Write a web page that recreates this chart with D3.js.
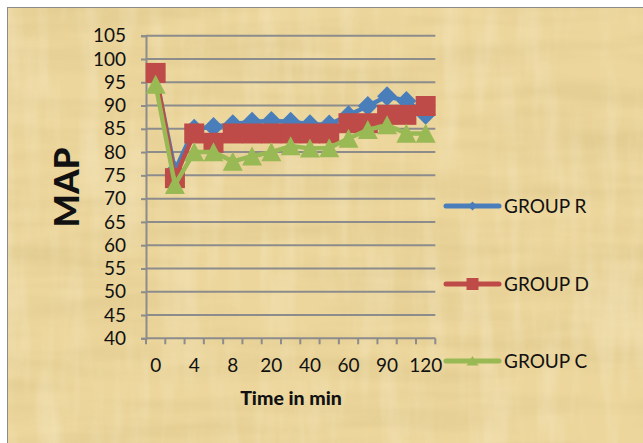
<!DOCTYPE html>
<html>
<head>
<meta charset="utf-8">
<script src="https://cdn.jsdelivr.net/npm/d3@7"></script>
<style>
  html, body { margin: 0; padding: 0; background: #ffffff; }
  svg { display: block; }
  text { font-family: Lato, "Open Sans", sans-serif; fill: #111; }
</style>
</head>
<body>
<script>
// Time points (min) and mean arterial pressure per group
const times = ["0", "2", "4", "6", "8", "10", "20", "30", "40", "50", "60", "75", "90", "105", "120"];
const groupR = [96.5, 76, 85, 85.4, 86, 86.5, 86.7, 86.5, 86, 85.9, 87.9, 89.9, 92, 91, 88];
const groupD = [97, 74.4, 84, 82, 84, 84, 84, 84, 84, 84, 86.2, 86.2, 88, 88, 89.9];
const groupC = [94.5, 73, 80, 80, 78, 79.1, 80, 81.3, 80.8, 80.9, 82.9, 84.8, 85.8, 84, 84];
const yTicks = [40, 45, 50, 55, 60, 65, 70, 75, 80, 85, 90, 95, 100, 105];
const seriesNames = ["GROUP R", "GROUP D", "GROUP C"];

const W = 643, H = 443;
const svg = d3.select("body").append("svg").attr("width", W).attr("height", H);

// Parchment background
const defs = svg.append("defs");
const f1 = defs.append("filter").attr("id", "fibre").attr("x", 0).attr("y", 0).attr("width", 1).attr("height", 1);
f1.append("feTurbulence").attr("type", "fractalNoise").attr("baseFrequency", "0.006 0.045").attr("numOctaves", 3).attr("seed", 4);
f1.append("feColorMatrix").attr("type", "matrix")
  .attr("values", "0 0 0 0 0.55  0 0 0 0 0.42  0 0 0 0 0.15  0 0 0 -1.2 0.75");
const f2 = defs.append("filter").attr("id", "fibre2").attr("x", 0).attr("y", 0).attr("width", 1).attr("height", 1);
f2.append("feTurbulence").attr("type", "fractalNoise").attr("baseFrequency", "0.05 0.008").attr("numOctaves", 3).attr("seed", 9);
f2.append("feColorMatrix").attr("type", "matrix")
  .attr("values", "0 0 0 0 1  0 0 0 0 0.97  0 0 0 0 0.85  0 0 0 -1.3 0.75");

svg.append("rect").attr("x", 7).attr("y", 7).attr("width", W).attr("height", H).attr("fill", "#ecd69c");
svg.append("rect").attr("x", 7).attr("y", 7).attr("width", W).attr("height", H).attr("filter", "url(#fibre)").attr("opacity", 0.4);
svg.append("rect").attr("x", 7).attr("y", 7).attr("width", W).attr("height", H).attr("filter", "url(#fibre2)").attr("opacity", 0.4);
svg.append("rect").attr("x", 7.5).attr("y", 7.5).attr("width", W).attr("height", H)
  .attr("fill", "none").attr("stroke", "#8a8a8a").attr("stroke-width", 1);

// Scales
const x = d3.scaleBand().domain(times).range([146, 435.3]);
const y = d3.scaleLinear().domain([40, 105]).range([338.3, 35.7]);
const cx = d => x(d) + x.bandwidth() / 2;
const gridColor = "#8c8c8c";

// Horizontal gridlines
svg.append("g").selectAll("line").data(yTicks.slice(1)).join("line")
  .attr("x1", 146).attr("x2", 435.3)
  .attr("y1", d => y(d)).attr("y2", d => y(d))
  .attr("stroke", gridColor).attr("stroke-width", 2);

// Y axis
const yAxis = svg.append("g").attr("transform", "translate(146,0)")
  .call(d3.axisLeft(y).tickValues(yTicks).tickSize(5).tickPadding(15));
yAxis.select(".domain").attr("stroke", gridColor).attr("stroke-width", 2);
yAxis.selectAll(".tick line").attr("stroke", gridColor).attr("stroke-width", 2);
yAxis.selectAll(".tick text").attr("font-size", 19).attr("font-family", "Lato").attr("fill", "#111");

// X axis (band boundaries carry the tick marks)
const xAxisG = svg.append("g").attr("transform", "translate(0,338.3)");
xAxisG.append("line").attr("x1", 146).attr("x2", 435.3).attr("stroke", gridColor).attr("stroke-width", 2);
const bounds = times.map(t => x(t)).concat([x(times[times.length - 1]) + x.bandwidth()]);
xAxisG.selectAll("line.tk").data(bounds).join("line").attr("class", "tk")
  .attr("x1", d => d).attr("x2", d => d).attr("y1", 0).attr("y2", 6)
  .attr("stroke", gridColor).attr("stroke-width", 2);
xAxisG.selectAll("text").data(times.filter((t, i) => i % 2 === 0)).join("text")
  .attr("x", d => cx(d)).attr("y", 34).attr("text-anchor", "middle")
  .attr("font-size", 19).text(d => d);

// Axis titles
svg.append("text").attr("x", 291).attr("y", 405).attr("text-anchor", "middle")
  .attr("font-size", 19.5).attr("font-weight", 900).text("Time in min");
svg.append("text").attr("transform", "translate(78.5,187.5) rotate(-90)").attr("text-anchor", "middle")
  .attr("font-size", 35).attr("font-weight", 900).text("MAP");

// Marker shapes
const diamond = r => `M0,${-r}L${r},0L0,${r}L${-r},0Z`;
const square = s => `M${-s / 2},${-s / 2}h${s}v${s}h${-s}Z`;
const triangle = (w, h) => `M0,${-h / 2 - 0.5}L${w / 2},${h / 2}L${-w / 2},${h / 2}Z`;

const series = [
  { name: seriesNames[0], values: groupR, color: "#4a7ebb", shape: diamond(10), legendShape: diamond(4.5) },
  { name: seriesNames[1], values: groupD, color: "#be4b48", shape: square(20), legendShape: square(12) },
  { name: seriesNames[2], values: groupC, color: "#98b954", shape: triangle(20, 18.5), legendShape: triangle(12, 9) }
];

const line = d3.line().x((d, i) => cx(times[i])).y(d => y(d));

series.forEach(s => {
  const g = svg.append("g");
  g.append("path").datum(s.values).attr("d", line)
    .attr("fill", "none").attr("stroke", s.color).attr("stroke-width", 4.5).attr("stroke-linejoin", "round");
  g.selectAll("path.m").data(s.values).join("path").attr("class", "m")
    .attr("d", s.shape)
    .attr("transform", (d, i) => `translate(${cx(times[i])},${y(d)})`)
    .attr("fill", s.color);
});

// Legend
const legendY = [206, 284, 361];
series.forEach((s, i) => {
  const g = svg.append("g").attr("transform", `translate(0,${legendY[i]})`);
  g.append("line").attr("x1", 446).attr("x2", 499).attr("y1", 0).attr("y2", 0)
    .attr("stroke", s.color).attr("stroke-width", 5).attr("stroke-linecap", "round");
  g.append("path").attr("d", s.legendShape).attr("transform", "translate(472.5,0)").attr("fill", s.color);
  g.append("text").attr("x", 504).attr("y", 7).attr("font-size", 19).text(s.name);
});
</script>
</body>
</html>
